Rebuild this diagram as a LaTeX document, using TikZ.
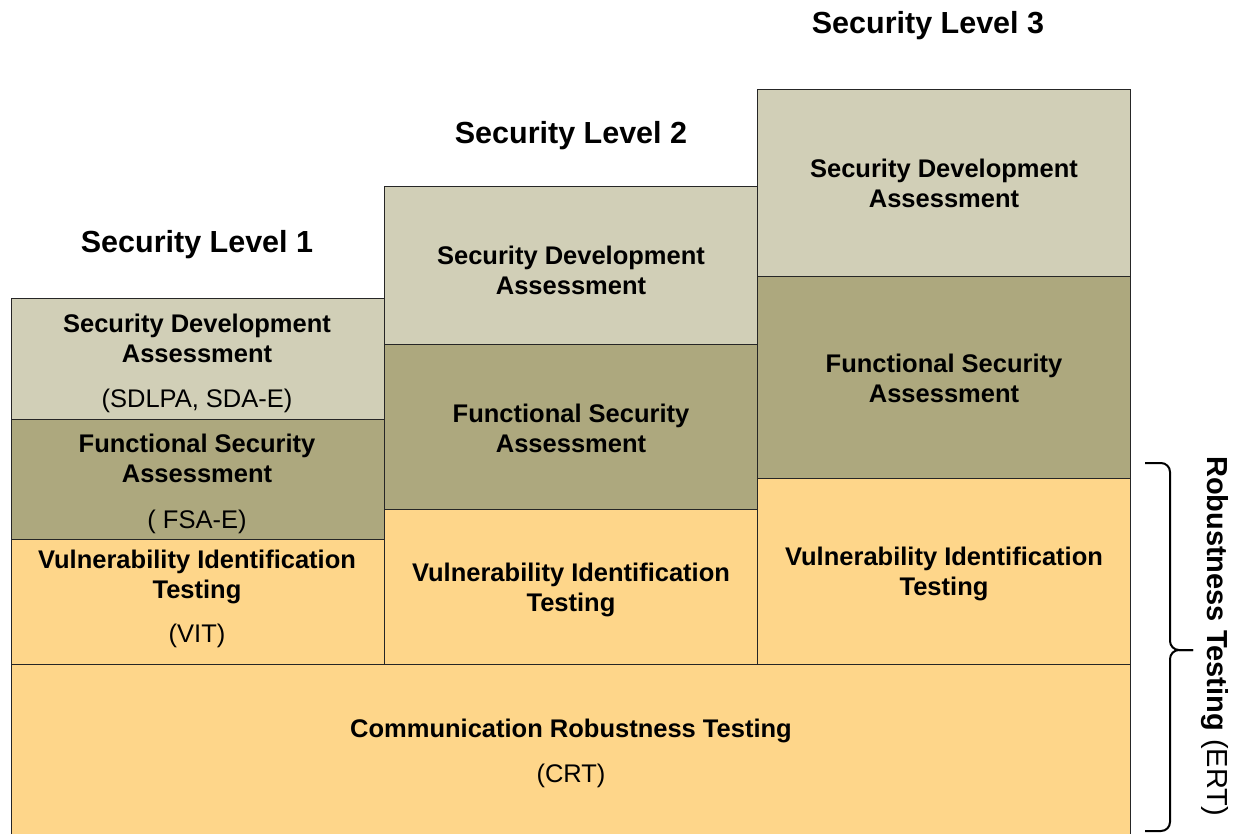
\documentclass[tikz,border=0pt]{standalone}
\usepackage{fontspec}
\setmainfont{Liberation Sans}
\usetikzlibrary{positioning}
\definecolor{sdagray}{HTML}{D1CFB7}
\definecolor{fsaolive}{HTML}{ADA87E}
\definecolor{vitorange}{HTML}{FED68A}

\begin{document}
\begin{tikzpicture}[x=1pt,y=-1pt,line width=1.4pt,
    lvl/.style={rectangle,draw=black!85,anchor=north west,inner sep=0pt,minimum width=373pt},
    txt/.style={align=center,font=\fontsize{25.5}{30}\selectfont\bfseries},
    abbr/.style={font=\fontsize{25.5}{30}\selectfont},
    title/.style={font=\fontsize{30.5}{36}\selectfont\bfseries},
    bracket/.style={line width=2pt,rounded corners=9pt}]
  \useasboundingbox (0,0) rectangle (1241,834);

  \node[lvl,fill=sdagray,minimum height=121pt] (sda1) at (11,298) {};
  \node[lvl,fill=fsaolive,minimum height=121pt] (fsa1) at (11,419) {};
  \node[lvl,fill=vitorange,minimum height=125pt] (vit1) at (11,539) {};
  \node[lvl,fill=sdagray,minimum height=158pt] (sda2) at (384,186) {};
  \node[lvl,fill=fsaolive,minimum height=165pt] (fsa2) at (384,344) {};
  \node[lvl,fill=vitorange,minimum height=155pt] (vit2) at (384,509) {};
  \node[lvl,fill=sdagray,minimum height=187pt] (sda3) at (757,89) {};
  \node[lvl,fill=fsaolive,minimum height=202pt] (fsa3) at (757,276) {};
  \node[lvl,fill=vitorange,minimum height=186pt] (vit3) at (757,478) {};
  \node[lvl,fill=vitorange,minimum width=1119pt,minimum height=180pt] (crt) at (11,664) {};

  \node[title] (lvl1) at (197,245) {Security Level 1};
  \node[title] (lvl2) at (571,136) {Security Level 2};
  \node[title] (lvl3) at (928,26) {Security Level 3};

  \begin{scope}[every node/.style={txt}]
    \node (sda1t) at (197,338) {Security Development\\Assessment};
    \node (fsa1t) at (197,458) {Functional Security\\Assessment};
    \node (vit1t) at (197,577) {Vulnerability Identification\\Testing};
    \node (sda2t) at (571,270) {Security Development\\Assessment};
    \node (fsa2t) at (571,428) {Functional Security\\Assessment};
    \node (vit2t) at (571,590) {Vulnerability Identification\\Testing};
    \node (sda3t) at (944,183) {Security Development\\Assessment};
    \node (fsa3t) at (944,378) {Functional Security\\Assessment};
    \node (vit3t) at (944,574) {Vulnerability Identification\\Testing};
    \node (crtt) at (571,731) {Communication Robustness Testing};
  \end{scope}
  \begin{scope}[every node/.style={abbr}]
    \node (sda1a) at (197,401) {(SDLPA, SDA-E)};
    \node (fsa1a) at (197,522) {( FSA-E)};
    \node (vit1a) at (197,636) {(VIT)};
    \node (crta) at (571,776) {(CRT)};
  \end{scope}

  \coordinate (brtop) at (1145,463);
  \coordinate (brbot) at (1145,831);
  \coordinate (brtip) at (1193,650);
  \draw[bracket] (brtop) -| (1170,650) -- (brtip);
  \draw[bracket] (brbot) -| (1170,650) -- (brtip);
  \node[rotate=-90,font=\fontsize{29}{34}\selectfont] (ert) at (1215,636) {\textbf{Robustness Testing} (ERT)};
\end{tikzpicture}
\end{document}
